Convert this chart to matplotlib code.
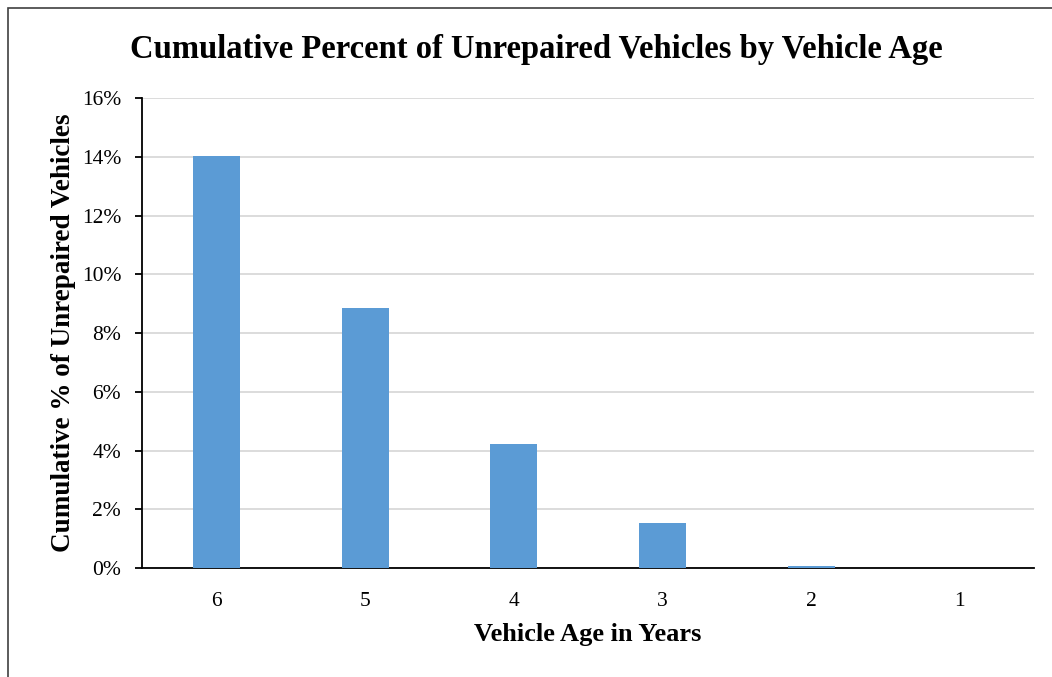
import matplotlib.pyplot as plt
from matplotlib.patches import Rectangle
from matplotlib.ticker import FuncFormatter, MultipleLocator

# Vehicle age categories and the cumulative share of vehicles still unrepaired
ages = ['6', '5', '4', '3', '2', '1']
cum_pct_unrepaired = [14.03, 8.85, 4.22, 1.52, 0.07, 0.0]

plt.rcParams['font.family'] = ['Liberation Serif', 'DejaVu Serif']

fig = plt.figure(figsize=(10.52, 6.77), dpi=100)
ax = fig.add_axes([0.135, 0.161, 0.848, 0.694])

ax.bar(range(len(ages)), cum_pct_unrepaired, width=0.316, color='#5b9bd5', zorder=3)

ax.set_xlim(-0.5, len(ages) - 0.5)
ax.set_ylim(0, 16)
ax.set_xticks(range(len(ages)))
ax.set_xticklabels(ages)
ax.yaxis.set_major_locator(MultipleLocator(2))
ax.yaxis.set_major_formatter(FuncFormatter(lambda v, _: f'{v:.0f}%'))

ax.grid(axis='y', color='#d9d9d9', linewidth=1.3, zorder=0)
for side in ['top', 'right']:
    ax.spines[side].set_visible(False)
ax.spines['left'].set_linewidth(1.3)
ax.spines['bottom'].set_linewidth(1.3)
ax.tick_params(axis='x', length=0, pad=17, labelsize=15.5)
ax.tick_params(axis='y', direction='out', length=5, width=1.3, pad=10, labelsize=15.5)

ax.set_xlabel('Vehicle Age in Years', fontsize=19, fontweight='bold', labelpad=9)
ax.set_ylabel('Cumulative % of Unrepaired Vehicles', fontsize=19.5, fontweight='bold', labelpad=4)
fig.text(0.51, 0.927, 'Cumulative Percent of Unrepaired Vehicles by Vehicle Age',
         ha='center', va='center', fontsize=23.5, fontweight='bold')

# chart area border
fig.patches.append(Rectangle((8 / 1052, -0.1), 1.2, 1.1 - 8 / 677, transform=fig.transFigure,
                             fill=False, edgecolor='#404040', linewidth=1.2))

fig.savefig('out.png', dpi=100)
